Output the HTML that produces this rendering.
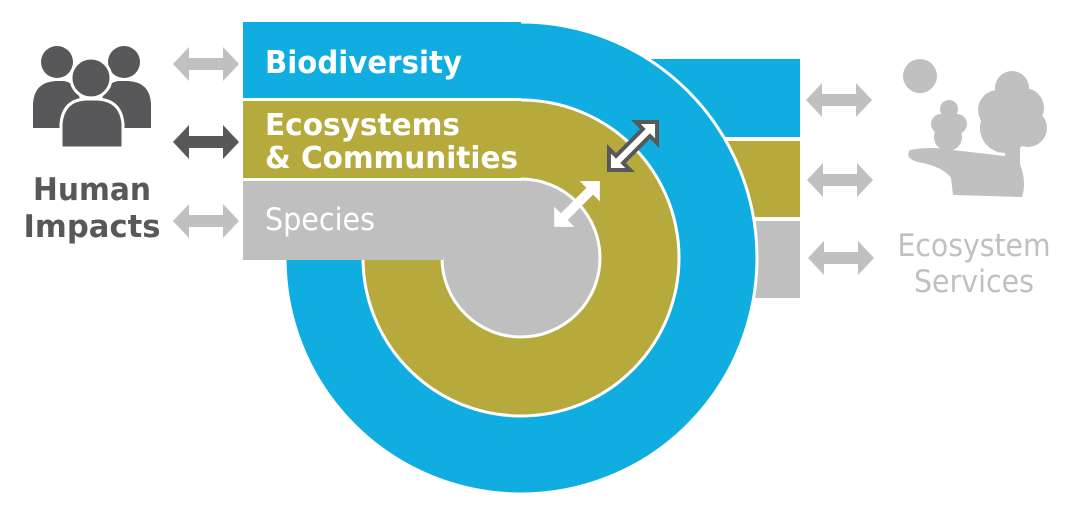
<!DOCTYPE html>
<html><head><style>html,body{margin:0;padding:0;background:#fff}svg{display:block}</style></head><body>
<svg width="1075" height="517" viewBox="0 0 1075 517" xmlns="http://www.w3.org/2000/svg">
<defs>
<path id="dg" d="M-33,0 L-17,-17 L-17,-6 L17,-6 L17,-17 L33,0 L17,17 L17,6 L-17,6 L-17,17 Z"/>
<path id="dd" d="M-34,0 L-19,-15 L-19,-5 L19,-5 L19,-15 L34,0 L19,15 L19,5 L-19,5 L-19,15 Z"/>
</defs>
<!-- right rects -->
<rect x="640" y="59" width="160" height="78" fill="#0fade0"/>
<rect x="700" y="141" width="100" height="76" fill="#b7aa3d"/>
<rect x="720" y="221" width="80" height="77" fill="#bfbfbf"/>
<!-- blue -->
<circle cx="521" cy="258" r="236" fill="#0fade0"/>
<path d="M521,22 A236,236 0 1 1 285,258" fill="none" stroke="#fff" stroke-width="3"/>
<rect x="243" y="22" width="278" height="80" fill="#0fade0"/>
<!-- olive -->
<circle cx="521" cy="258" r="158" fill="#b7aa3d"/>
<path d="M521,100 A158,158 0 1 1 363,258" fill="none" stroke="#fff" stroke-width="3"/>
<rect x="243" y="101" width="278" height="80" fill="#b7aa3d"/>
<line x1="243" y1="99.5" x2="521" y2="99.5" stroke="#fff" stroke-width="3"/>
<!-- grey -->
<circle cx="521" cy="258" r="79" fill="#bfbfbf"/>
<path d="M521,179 A79,79 0 1 1 442,258" fill="none" stroke="#fff" stroke-width="3"/>
<rect x="243" y="181" width="278" height="77" fill="#bfbfbf"/>
<rect x="243" y="257" width="200" height="3" fill="#bfbfbf"/>
<line x1="243" y1="179.5" x2="521" y2="179.5" stroke="#fff" stroke-width="3"/>
<!-- diagonal arrows -->
<g transform="translate(633,146) rotate(-45)"><use href="#dd" fill="#fff" stroke="#58585a" stroke-width="4"/></g>
<g transform="translate(577,204) rotate(-45)"><use href="#dd" fill="#fff" transform="scale(0.95)"/></g>
<!-- left arrows -->
<use href="#dg" x="206" y="64" fill="#c0c0c0"/>
<use href="#dg" x="206" y="142" fill="#58585a"/>
<use href="#dg" x="206" y="221" fill="#c0c0c0"/>
<!-- right arrows -->
<use href="#dg" x="839" y="100" fill="#c0c0c0"/>
<use href="#dg" x="840" y="180" fill="#c0c0c0"/>
<use href="#dg" x="841" y="258" fill="#c0c0c0"/>
<!-- people icon -->
<g fill="#58585a">
<circle cx="57" cy="62" r="16"/>
<path d="M33,128 L33,104 Q34,82 56,81 L64,81 Q80,84 80,104 L80,128 Z"/>
<circle cx="124" cy="62" r="16"/>
<path d="M102,128 L102,104 Q102,84 118,81 L128,81 Q150,82 151,104 L151,128 Z"/>
</g>
<circle cx="91" cy="78" r="20" fill="#58585a" stroke="#fff" stroke-width="3"/>
<path d="M61,148 L61,124 Q63,100 86,99 L97,99 Q121,100 123,124 L123,148 Z" fill="#58585a" stroke="#fff" stroke-width="3"/>
<!-- trees icon -->
<g fill="#c0c0c0">
<circle cx="920" cy="76" r="17"/>
<path d="M910,150 Q904,158 918,162 Q944,167 951,178 L953,195 L1022,197 Q1026,185 1022,170 L1018,158 Q990,154 952,150 Q930,146 910,150 Z"/>
<circle cx="949" cy="109" r="9"/><circle cx="941" cy="124" r="10"/><circle cx="957" cy="124" r="10"/><circle cx="948" cy="137" r="14"/>
<rect x="945" y="140" width="6" height="14"/>
<circle cx="1012" cy="88" r="17"/><circle cx="998" cy="110" r="20"/><circle cx="1024" cy="108" r="20"/><circle cx="1005" cy="128" r="25"/><circle cx="1028" cy="128" r="19"/>
<rect x="1005" y="140" width="15" height="55"/>
</g>
<!-- text -->
<g font-family="'DejaVu Sans','Liberation Sans',sans-serif">
<text x="265" y="73" font-size="31" font-weight="bold" fill="#fff" textLength="197" lengthAdjust="spacingAndGlyphs">Biodiversity</text>
<text x="265" y="135" font-size="30" font-weight="bold" fill="#fff" textLength="195" lengthAdjust="spacingAndGlyphs">Ecosystems</text>
<text x="265" y="168" font-size="30" font-weight="bold" fill="#fff" textLength="253" lengthAdjust="spacingAndGlyphs">&amp; Communities</text>
<text x="265" y="230" font-size="31" fill="#fff" textLength="110" lengthAdjust="spacingAndGlyphs">Species</text>
<text x="92" y="200" font-size="31" font-weight="bold" fill="#58585a" text-anchor="middle" textLength="118" lengthAdjust="spacingAndGlyphs">Human</text>
<text x="92" y="237" font-size="31" font-weight="bold" fill="#58585a" text-anchor="middle" textLength="137" lengthAdjust="spacingAndGlyphs">Impacts</text>
<text x="974" y="256" font-size="31" fill="#c0c0c0" text-anchor="middle" textLength="153" lengthAdjust="spacingAndGlyphs">Ecosystem</text>
<text x="974" y="292" font-size="31" fill="#c0c0c0" text-anchor="middle" textLength="120" lengthAdjust="spacingAndGlyphs">Services</text>
</g>
</svg>
</body></html>
